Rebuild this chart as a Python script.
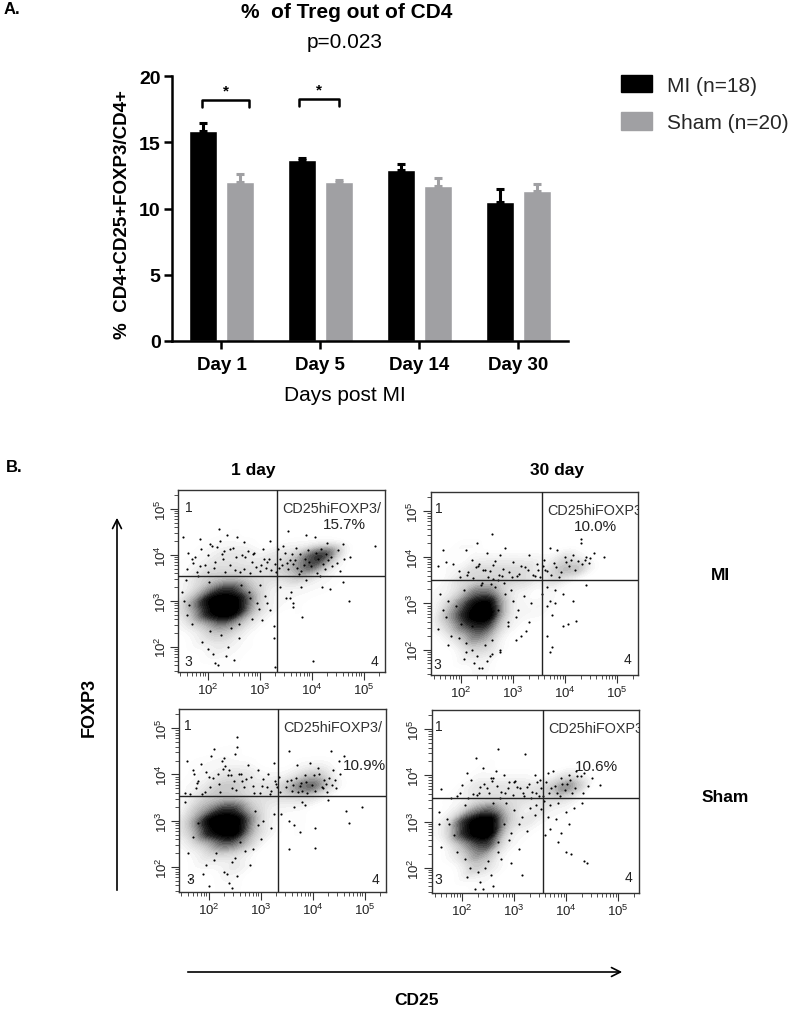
import numpy as np, pandas as pd, seaborn as sns, matplotlib
matplotlib.use('Agg')
import matplotlib.pyplot as plt
from matplotlib.patches import Patch

sns.set_theme(style='white')
plt.rcParams['font.family'] = ['Liberation Sans', 'DejaVu Sans']
W, H = 793, 1012

# ---------- panel A values ----------
days = ['Day 1', 'Day 5', 'Day 14', 'Day 30']
mi_mean = [15.9, 13.65, 12.9, 10.5]
mi_err = [0.6, 0.15, 0.5, 1.0]
sham_mean = [12.0, 12.0, 11.7, 11.3]
sham_err = [0.6, 0.2, 0.6, 0.6]
groups = ['MI (n=18)', 'Sham (n=20)']

# ---------- panel B: event density, per 0.25-decade cell (0-9) ----------
dens_x = [1.5, 1.75, 2.0, 2.25, 2.5, 2.75, 3.0, 3.25, 3.5, 3.75, 4.0, 4.25, 4.5, 4.75]
dens_y = [4.5, 4.25, 4.0, 3.75, 3.5, 3.25, 3.0, 2.75, 2.5, 2.25, 2.0, 1.75, 1.5]
dens_mi1 = ['00001000000000', '00111100111100', '01122212236720', '11222222346310',
            '12333222232110', '12466321111100', '24899521110000', '23799421010000',
            '12354210000000', '01232100000000', '01121100000000', '00111000000000', '00011000000000']
dens_mi30 = ['00000000000000', '00110000000000', '01011111112100', '01122222123310',
             '01222222121000', '11244211010000', '12467311110000', '13578311100000',
             '12455210000000', '01243100000000', '00122100000000', '00111000000000', '00011000000000']
dens_sh1 = ['00011000000000', '01111100011100', '01122211123200', '11233222356310',
            '12333222222100', '13466321110000', '24899521010000', '23789421010000',
            '12355310000000', '01222100000000', '01112100000000', '00011000000000', '00011000000000']
dens_sh30 = ['00000000000000', '00001000000000', '00011111012100', '00122222235300',
             '01122222222100', '01245321211000', '12689422110000', '12689311000000',
             '01356210000000', '01243100000000', '00132100000000', '00111000000000', '00011000000000']

# individually legible events (log10 CD25, log10 FOXP3), read by eye
dots_mi1_x = [2.21,2.37,1.85,1.53,2.56,2.04,2.24,1.69,1.85,1.63,2.43,2.69,2.88,3.07,3.2,3.55,3.9,4.06,4.61,4.74,5.22,3.45,3.7,4.3,4.5,
              1.6,1.75,2.0,2.15,2.3,2.55,2.7,2.85,3.0,3.15,3.3,3.4,3.55,3.65,3.8,3.95,4.1,4.25,4.4,4.55,
              1.5,1.6,1.7,1.55,1.65,2.8,2.95,3.1,3.2,3.0,2.85,3.4,3.6,3.5,3.65,3.8,4.02,4.72,3.81,3.65,3.58,4.2,4.6,4.35,3.9,
              1.9,2.1,2.2,2.4,2.5,2.6,2.05,2.25,2.35,2.15,2.45,2.0,2.6,3.28,3.28,3.3,
              1.8,1.95,2.12,2.28,2.42,2.62,2.78,2.92,3.08,3.22,3.38,3.48,3.58,3.72,3.78,3.88,3.98,4.12,4.18,4.32,
              2.0,2.18,2.34,2.52,2.66,2.82,3.02,3.18,3.32,3.42,3.62,3.68,3.86,3.92,4.08,4.22,4.28,4.38,4.48,4.62,
              1.72,1.88,2.08,2.32,2.48,2.72,2.9,3.12,3.36,3.52,3.76,4.16,1.58,1.82,2.02,2.65,2.82,2.98,3.14,3.04]
dots_mi1_y = [4.56,4.43,4.34,4.38,4.38,4.23,4.30,3.91,3.76,4.05,4.12,4.27,4.01,4.12,4.3,4.52,4.43,4.38,4.23,3.96,4.2,4.2,4.15,4.25,4.1,
              3.7,3.95,4.0,3.85,3.9,3.95,3.7,3.85,3.65,3.85,3.8,3.9,3.7,3.8,3.65,3.85,3.6,3.7,3.75,3.65,
              3.2,2.7,2.5,3.0,2.9,3.2,2.95,3.1,2.8,3.35,2.6,3.3,3.2,3.05,2.95,3.3,1.68,2.99,2.64,2.86,3.07,3.3,3.4,3.25,3.45,
              2.1,1.85,1.6,2.0,1.7,2.2,2.35,2.25,1.8,1.65,2.4,1.95,2.5,2.2,2.45,1.55,
              3.62,3.78,3.72,4.02,3.78,3.62,4.08,3.74,3.92,3.68,3.72,4.05,3.88,3.72,4.02,3.92,3.75,3.9,4.12,3.88,
              3.62,4.18,3.62,3.68,4.0,3.6,3.78,3.92,3.62,3.78,4.02,3.88,3.78,4.1,4.05,3.8,4.02,3.95,3.82,3.92,
              3.82,4.12,4.2,4.08,4.15,3.95,4.05,3.72,4.12,3.82,3.58,3.55,3.45,3.55,3.4,3.35,3.05,2.82,2.95,2.58]
dots_mi30_x = [1.65,1.85,2.3,2.6,2.85,2.75,2.5,2.1,1.55,1.7,1.95,2.2,2.35,2.55,2.8,3.0,3.15,3.3,3.45,3.6,3.7,3.85,4.0,4.15,4.3,4.4,4.55,4.75,4.3,
              3.65,3.8,3.55,3.7,3.95,4.15,4.4,3.8,3.65,3.75,3.95,4.2,3.65,3.75,4.05,3.7,
              1.6,1.75,1.9,2.05,2.2,2.4,2.65,2.85,3.0,3.2,3.35,3.1,3.3,2.9,2.7,2.6,2.45,2.2,2.1,2.3,2.5,1.55,1.7,1.8,1.95,2.1,2.9,3.05,3.25,
              2.4,2.55,2.75,3.05,3.15,2.95,2.05,2.25,2.35,1.65,1.75,2.6,2.75,2.0,
              2.12,2.28,2.42,2.52,2.62,2.72,2.92,3.08,3.22,3.38,3.52,3.62,3.72,3.82,3.92,4.02,4.08,4.18,4.24,4.32,4.38,4.45,4.48,3.58,3.66,
              1.98,2.14,2.32,2.46,2.66,2.78,2.98,3.12,3.28,3.42,3.48,3.78,3.88,4.12,2.22,2.38,2.58,2.7,2.82,2.62]
dots_mi30_y = [4.15,3.85,4.3,4.5,4.2,4.05,4.1,4.15,3.8,3.9,3.7,3.95,3.85,3.7,3.75,3.9,3.8,4.05,3.85,3.95,4.2,4.15,4.0,4.05,4.3,4.0,4.1,4.0,4.4,
               3.35,3.3,3.2,3.05,3.2,3.05,3.4,3.0,2.95,2.75,2.5,2.62,2.3,2.05,2.55,1.95,
               3.2,3.05,2.95,3.3,2.5,3.45,3.35,3.2,3.05,3.15,3.0,2.85,2.6,2.6,2.85,2.2,2.1,2.0,2.15,1.85,1.75,2.45,2.7,2.3,2.25,1.95,2.5,2.7,2.4,
               1.6,1.85,2.0,2.2,2.3,3.3,1.8,1.7,1.6,2.85,2.1,1.9,1.95,2.55,
               3.62,3.78,3.72,3.58,3.84,3.62,3.68,3.6,3.78,3.62,3.58,3.72,3.62,3.78,3.68,3.9,3.82,3.72,3.92,3.85,3.95,3.88,3.98,3.82,3.7,
               3.58,3.68,3.82,3.72,3.92,3.6,3.58,3.64,3.72,3.6,3.72,3.88,3.58,3.95,3.55,3.4,3.42,3.5,3.45,3.52]
dots_sh1_x = [1.58,1.7,1.85,2.1,2.25,2.55,2.55,2.5,2.3,2.05,1.8,1.95,2.4,2.75,2.95,3.15,3.25,3.55,3.7,3.95,4.1,4.35,4.5,4.6,4.4,3.35,3.5,3.8,4.2,
              1.55,1.75,2.0,2.2,2.45,2.65,2.85,3.05,3.2,3.3,3.6,3.75,3.9,4.05,4.25,4.45,
              3.4,3.55,3.65,3.65,3.75,3.8,4.05,4.05,4.65,4.95,3.55,3.85,4.3,4.7,
              1.55,1.6,1.7,1.8,2.9,3.05,3.2,3.25,3.0,2.85,2.95,1.95,2.1,2.3,2.45,2.55,2.7,2.15,2.4,2.45,1.65,2.0,2.6,2.8,2.35,1.9,2.5,
              1.65,1.78,1.92,2.08,2.22,2.38,2.52,2.68,2.82,2.98,3.12,3.28,3.38,3.48,3.58,3.68,3.78,3.85,3.98,4.12,4.22,4.32,4.42,4.52,
              1.72,1.88,2.02,2.18,2.32,2.48,2.62,2.72,2.88,3.02,3.18,3.32,3.62,3.72,3.88,4.02,4.18,4.28,4.38,2.28,2.42,2.58]
dots_sh1_y = [4.28,4.1,4.22,4.55,4.3,4.8,4.6,4.45,4.35,4.4,3.85,4.05,4.1,4.2,4.1,4.0,4.25,4.5,4.2,4.25,4.15,4.5,4.3,4.4,4.1,3.95,3.85,3.65,3.7,
              3.6,3.7,3.95,3.8,3.7,3.85,3.75,3.9,3.65,3.8,3.65,3.75,3.6,3.65,3.8,3.7,
              3.15,3.0,3.3,2.9,2.75,3.4,2.85,2.42,3.2,3.3,2.4,3.35,3.45,2.95,
              3.4,2.3,2.65,2.95,3.2,3.0,2.85,3.15,2.6,2.4,2.9,2.05,2.15,1.9,2.1,1.8,2.35,2.3,1.65,1.55,1.75,1.6,2.55,2.05,1.85,1.85,2.2,
              3.58,3.82,3.62,3.92,3.62,3.98,3.66,3.72,3.95,3.6,3.72,3.86,3.62,3.72,3.88,3.92,3.82,3.98,3.78,4.02,3.88,3.92,3.88,4.02,
              4.0,3.58,3.72,4.02,4.18,3.86,4.02,3.9,3.6,3.75,3.58,3.72,3.78,3.62,3.84,3.98,3.72,3.62,3.78,4.12,3.98,4.02]
dots_sh30_x = [2.7,2.27,3.22,2.65,2.4,2.1,2.55,2.8,3.0,3.25,3.4,3.5,3.65,3.75,3.9,4.05,4.2,4.35,4.5,4.65,1.6,1.9,2.0,2.2,2.35,2.6,2.75,2.9,3.05,3.2,3.35,3.45,3.55,
              3.7,3.85,4.0,4.15,4.3,3.65,3.8,3.7,3.9,3.6,3.85,4.05,4.0,4.1,4.35,4.4,
              1.55,1.7,1.85,2.05,1.6,1.75,1.55,2.85,3.0,3.15,3.3,3.4,3.1,2.95,2.8,2.9,3.25,2.7,2.6,3.1,2.5,2.45,2.3,2.15,2.1,2.75,1.9,2.55,2.35,2.95,2.25,2.05,2.6,2.4,2.7,3.15,
              1.78,1.95,2.12,2.28,2.42,2.52,2.68,2.82,2.98,3.12,3.28,3.42,3.52,3.62,3.72,3.82,3.92,3.98,4.08,4.18,4.28,4.42,
              2.18,2.32,2.48,2.58,2.72,2.88,3.02,3.18,3.32,3.48,3.68,3.78,3.88,4.02,4.12,4.22,4.32,3.58,3.52,3.42]
dots_sh30_y = [4.58,4.38,4.47,4.1,4.15,4.05,3.95,4.0,3.85,3.75,4.0,3.9,4.05,4.1,3.95,4.0,4.1,4.05,3.95,3.8,3.7,3.55,3.8,3.6,3.75,3.95,3.65,3.85,3.75,3.55,3.65,3.85,3.55,
               3.35,3.4,3.2,3.3,3.4,3.1,3.05,2.85,2.75,2.7,2.55,2.95,2.35,2.3,2.15,2.1,
               3.2,3.05,2.7,3.35,2.45,2.95,2.95,3.4,3.25,3.1,3.3,3.15,2.95,2.75,2.95,2.6,2.8,2.55,3.4,2.4,2.15,2.0,1.9,2.0,1.8,2.2,2.35,1.85,1.7,2.1,1.55,2.2,1.6,1.55,2.35,1.85,
               3.52,3.62,3.52,3.58,3.82,3.62,3.78,3.62,3.58,3.72,3.82,3.62,3.72,3.86,3.72,3.62,3.82,3.68,3.9,3.72,3.98,3.78,
               3.9,3.62,3.72,3.88,3.52,3.72,3.88,3.62,3.5,3.55,3.62,3.78,3.55,3.82,3.62,3.98,3.62,3.45,3.28,3.35]

panel_label = 'CD25hiFOXP3/'
panel_pct = ['15.7%', '10.0%', '10.9%', '10.6%']

fig = plt.figure(figsize=(W / 100, H / 100), dpi=100, facecolor='white')

def axes_px(l, t, r, b):
    return fig.add_axes([l / W, 1 - b / H, (r - l) / W, (b - t) / H])

def txt(x, y, s, **kw):
    kw.setdefault('ha', 'center')
    kw.setdefault('va', 'center')
    fig.text(x / W, 1 - y / H, s, **kw)

# ---------- panel A ----------
ax = axes_px(171.7, 77.3, 567.6, 342)
bar_df = pd.DataFrame({'day': days * 2,
                       'value': mi_mean + sham_mean,
                       'err': mi_err + sham_err,
                       'group': [groups[0]] * 4 + [groups[1]] * 4})
bar_colors = {groups[0]: '#000000', groups[1]: '#a0a0a3'}
sns.barplot(data=bar_df, x='day', y='value', hue='group', palette=bar_colors, order=days,
            hue_order=groups, width=0.75, gap=0.25, saturation=1, errorbar=None, legend=False, ax=ax)
ax.set_xlim(-0.503, 3.5)
ax.set_ylim(0, 20)
for cont, name in zip(ax.containers, groups):
    sub = bar_df[bar_df.group == name]
    xc = [p.get_x() + p.get_width() / 2 for p in cont.patches]
    ax.errorbar(xc, sub['value'], yerr=[np.zeros(4), sub['err']], fmt='none',
                ecolor=bar_colors[name], elinewidth=2.2, capsize=2.6, capthick=2.2)
for s in ['top', 'right']:
    ax.spines[s].set_visible(False)
for s in ['left', 'bottom']:
    ax.spines[s].set_linewidth(1.8)
    ax.spines[s].set_color('black')
ax.set_xlabel('')
ax.set_ylabel('%  CD4+CD25+FOXP3/CD4+', fontsize=13.5, fontweight='bold', color='black')
ax.yaxis.set_label_coords(-0.103, 0.48)
ax.set_yticks([0, 5, 10, 15, 20])
ax.tick_params(axis='both', direction='out', length=6, width=1.8, color='black', left=True, bottom=True)
ax.tick_params(axis='y', labelsize=14, pad=2, labelcolor='black')
ax.tick_params(axis='x', labelsize=13.5, pad=5, labelcolor='black')
for t in ax.get_xticklabels() + ax.get_yticklabels():
    t.set_fontweight('bold')
for x0, x1, top in [(-0.195, 0.278, 18.2), (0.785, 1.19, 18.3)]:
    ax.plot([x0, x0, x1, x1], [top - 0.55, top, top, top - 0.55], color='black', lw=1.8, solid_joinstyle='round')
    ax.text((x0 + x1) / 2, top + 0.7, '*', ha='center', va='center', fontsize=11, fontweight='bold', color='black')
ax.set_facecolor('none')

fig.legend(handles=[Patch(color=bar_colors[g], label=g) for g in groups], loc='upper left',
           bbox_to_anchor=(602 / W, 1 - 57 / H), frameon=False, fontsize=15,
           handlelength=1.5, handleheight=0.9, handletextpad=0.7, labelspacing=0.85)

txt(4, 10, 'A.', ha='left', fontsize=12, fontweight='bold', color='black')
txt(6, 468, 'B.', ha='left', fontsize=12, fontweight='bold', color='black')
txt(347, 12, '%  of Treg out of CD4', fontsize=15, fontweight='bold', color='black')
txt(345, 43, 'p=0.023', fontsize=15, color='black')
txt(345, 396, 'Days post MI', fontsize=15, color='black')
txt(253, 471, '1 day', fontsize=12.5, fontweight='bold', color='black')
txt(557, 471, '30 day', fontsize=12.5, fontweight='bold', color='black')
txt(720, 575, 'MI', fontsize=12.5, fontweight='bold', color='black')
txt(725, 798, 'Sham', fontsize=12.5, fontweight='bold', color='black')
txt(89, 707, 'FOXP3', fontsize=13, fontweight='bold', rotation=90, color='black')
txt(417, 1001, 'CD25', fontsize=12.5, fontweight='bold', color='black')

ov = fig.add_axes([0, 0, 1, 1], facecolor='none')
ov.set_xlim(0, W); ov.set_ylim(H, 0); ov.axis('off'); ov.set_zorder(-1)
ov.annotate('', xy=(117, 516), xytext=(117, 894), arrowprops=dict(arrowstyle='->', lw=1.2, color='black', mutation_scale=16))
ov.annotate('', xy=(625, 973), xytext=(185, 973), arrowprops=dict(arrowstyle='->', lw=1.2, color='black', mutation_scale=16))

# ---------- panel B ----------
ink = sns.blend_palette(['#ffffff', '#c4c4c4', '#7a7a7a', '#2a2a2a', '#000000', '#000000'], as_cmap=True)
minor_ticks = [np.log10(k * 10.0 ** e) for e in range(1, 6) for k in range(2, 10)]

def flow_panel(box, xlim, ylim, gate, dens, dots_x, dots_y, pct, pct_xy, nums):
    a = axes_px(*box)
    gx, gy, gw = [], [], []
    for row, yv in zip(dens, dens_y):
        for ch, xv in zip(row, dens_x):
            if ch != '0':
                gx.append(xv); gy.append(yv); gw.append(int(ch) ** 1.5)
    sns.kdeplot(x=gx, y=gy, weights=gw, fill=True, cmap=ink, levels=30, thresh=0.02,
                bw_adjust=0.44, ax=a, zorder=1)
    sns.scatterplot(x=dots_x, y=dots_y, s=2.4, color='black', linewidth=0, ax=a, zorder=2)
    a.set_xlim(xlim); a.set_ylim(ylim)
    a.axvline(gate[0], color='#222222', lw=1, zorder=3)
    a.axhline(gate[1], color='#222222', lw=1, zorder=3)
    for s in a.spines.values():
        s.set_color('#333333'); s.set_linewidth(1)
    a.set_xticks([2, 3, 4, 5]); a.set_yticks([2, 3, 4, 5])
    a.set_xticklabels([f'$\\mathregular{{10^{e}}}$' for e in (2, 3, 4, 5)], fontsize=9.5, color='#222222')
    a.set_yticklabels([f'$\\mathregular{{10^{e}}}$' for e in (2, 3, 4, 5)], fontsize=9.5, rotation=90,
                      va='center', color='#222222')
    a.set_xticks([v for v in minor_ticks if xlim[0] < v < xlim[1]], minor=True)
    a.set_yticks([v for v in minor_ticks if ylim[0] < v < ylim[1]], minor=True)
    a.tick_params(which='major', length=6, width=0.8, color='#333333', pad=1, left=True, bottom=True)
    a.tick_params(which='minor', length=3, width=0.6, color='#333333', left=True, bottom=True)
    a.text(gate[0] + 0.1, 5.03, panel_label, fontsize=10.4, color='#333333', va='center', ha='left', clip_on=True)
    a.text(pct_xy[0], pct_xy[1], pct, fontsize=11, color='#222222', ha='center', va='center')
    for (nx, ny), n in zip(nums, '134'):
        a.text(nx, ny, n, fontsize=10, color='#222222', ha='center', va='center')

flow_panel((178.3, 490.7, 385, 672.7), (1.435, 5.41), (1.455, 5.42), (3.34, 3.54), dens_mi1, dots_mi1_x, dots_mi1_y,
           panel_pct[0], (4.63, 4.67), [(1.63, 5.05), (1.62, 1.68), (5.2, 1.68)])
flow_panel((430.7, 492.7, 638, 675.7), (1.415, 5.40), (1.455, 5.42), (3.55, 3.5), dens_mi30, dots_mi30_x, dots_mi30_y,
           panel_pct[1], (4.58, 4.67), [(1.57, 5.07), (1.55, 1.68), (5.2, 1.8)])
flow_panel((179.3, 709.7, 386, 893.3), (1.435, 5.41), (1.455, 5.42), (3.34, 3.54), dens_sh1, dots_sh1_x, dots_sh1_y,
           panel_pct[2], (5.0, 4.2), [(1.6, 5.07), (1.65, 1.75), (5.2, 1.75)])
flow_panel((432, 710.7, 638.7, 894), (1.42, 5.40), (1.455, 5.42), (3.56, 3.5), dens_sh30, dots_sh30_x, dots_sh30_y,
           panel_pct[3], (4.58, 4.2), [(1.55, 5.07), (1.55, 1.75), (5.2, 1.8)])

fig.savefig('out.png', dpi=100, facecolor='white')
